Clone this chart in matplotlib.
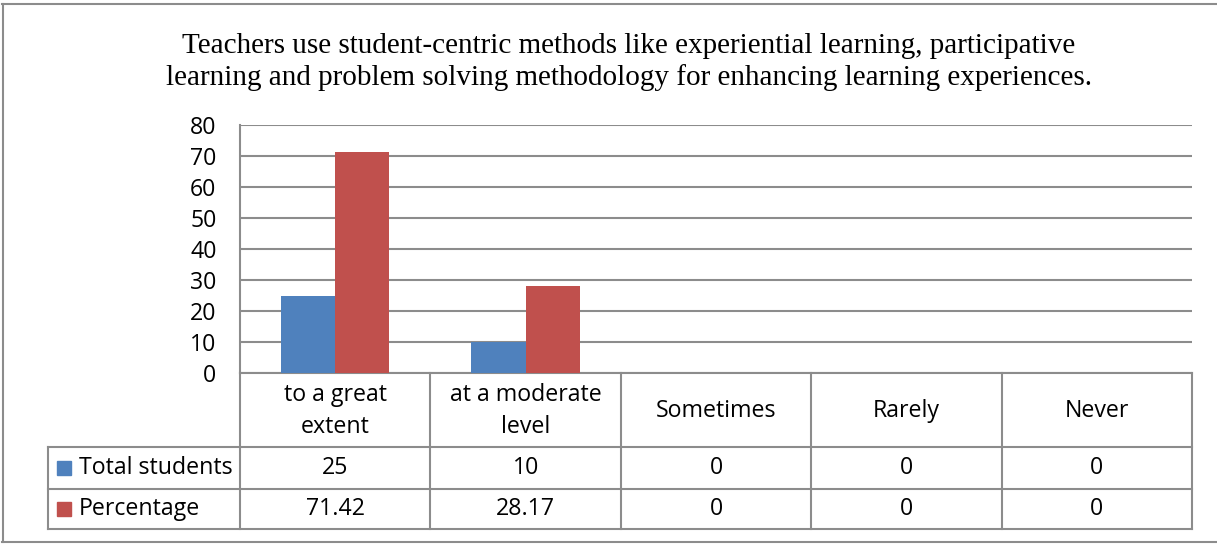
import matplotlib
matplotlib.use("Agg")
import matplotlib.pyplot as plt
from matplotlib.lines import Line2D
from matplotlib.patches import Rectangle
import matplotlib.transforms as mtransforms
import numpy as np

# ---------------- data ----------------
categories = ["to a great\nextent", "at a moderate\nlevel", "Sometimes", "Rarely", "Never"]
series_names = ["Total students", "Percentage"]
total_students = [25, 10, 0, 0, 0]
percentage = [71.42, 28.17, 0, 0, 0]
total_labels = ["25", "10", "0", "0", "0"]
percentage_labels = ["71.42", "28.17", "0", "0", "0"]
y_ticks = [0, 10, 20, 30, 40, 50, 60, 70, 80]
title = ("Teachers use student-centric methods like experiential learning, participative\n"
         "learning and problem solving methodology for enhancing learning experiences.")

colors = ["#4F81BD", "#C0504D"]
grid_col = "#8C8C8C"
W, H = 1217, 544
SANS = ["Open Sans", "DejaVu Sans"]
FS = 16.7

def fx(x):
    return x / W

def fy(y):
    return 1 - y / H

fig = plt.figure(figsize=(W / 100, H / 100), dpi=100)
fig.patch.set_facecolor("white")

# outer chart border
for xs, ys in [((2, W + 5), (4, 4)), ((2.5, 2.5), (4, 542)), ((2, W + 5), (542, 542))]:
    fig.add_artist(Line2D([fx(x) for x in xs], [fy(y) for y in ys],
                          transform=fig.transFigure, color="#8C8C8C", lw=1.5))

# title
fig.text(fx(629), fy(62), title, ha="center", va="center", fontsize=21,
         family=["Liberation Serif", "DejaVu Serif"], linespacing=1.2, color="black")

# plot axes
ax = fig.add_axes([fx(240), fy(373), fx(1192) - fx(240), fy(125) - fy(373)])
x = np.arange(len(categories))
bw = 0.285
ax.bar(x - bw / 2, total_students, width=bw, color=colors[0], zorder=3)
ax.bar(x + bw / 2, percentage, width=bw, color=colors[1], zorder=3)
ax.set_xlim(-0.5, len(categories) - 0.5)
ax.set_ylim(0, 80)
ax.set_yticks(y_ticks)
ax.set_yticklabels([str(t) for t in y_ticks], family=SANS, fontsize=FS)
ax.tick_params(axis="y", length=0, pad=17)
ax.set_xticks([])
ax.grid(axis="y", color=grid_col, lw=1.5, zorder=0)
for s in ["top", "right"]:
    ax.spines[s].set_visible(False)
ax.spines["left"].set_color(grid_col)
ax.spines["left"].set_linewidth(1.5)
ax.spines["bottom"].set_color(grid_col)
ax.spines["bottom"].set_linewidth(1.5)

# data table below (x in data coords, y in figure coords)
bt = mtransforms.blended_transform_factory(ax.transData, fig.transFigure)
n = len(categories)
lc = dict(color=grid_col, lw=1.5)
row_tops = [447, 489, 529]
for yy in row_tops:
    fig.add_artist(Line2D([fx(48), fx(1192)], [fy(yy), fy(yy)], transform=fig.transFigure, **lc))
for b in np.arange(n + 1) - 0.5:
    fig.add_artist(Line2D([b, b], [fy(373), fy(529)], transform=bt, **lc))
fig.add_artist(Line2D([fx(48), fx(48)], [fy(447), fy(529)], transform=fig.transFigure, **lc))

tkw = dict(ha="center", va="center", family=SANS, fontsize=FS, color="black")
for i, c in enumerate(categories):
    fig.text(i, fy(411), c, transform=bt, linespacing=1.42, **tkw)
    fig.text(i, fy(468), total_labels[i], transform=bt, **tkw)
    fig.text(i, fy(509), percentage_labels[i], transform=bt, **tkw)

# legend keys in table
for name, col, yc in zip(series_names, colors, [468, 509]):
    fig.add_artist(Rectangle((fx(57), fy(yc + 7)), fx(14), fy(0) - fy(14),
                             transform=fig.transFigure, color=col))
    fig.text(fx(79), fy(yc), name, ha="left", va="center", family=SANS,
             fontsize=FS, color="black")

fig.savefig("out.png", dpi=100)
